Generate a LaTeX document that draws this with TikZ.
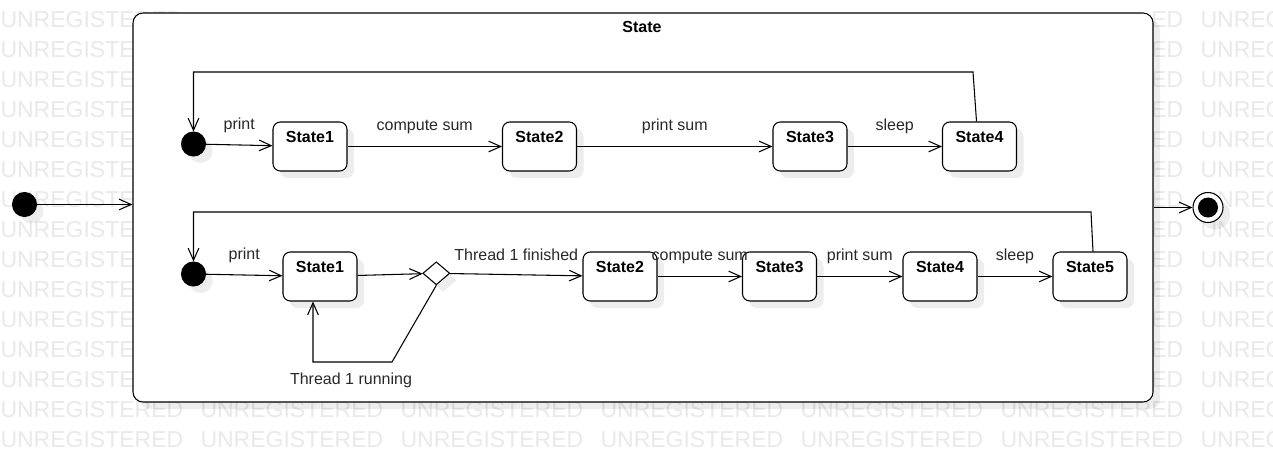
\documentclass[tikz,border=0pt]{standalone}
\usepackage{fontspec}
\setmainfont{Liberation Sans}
\usetikzlibrary{arrows.meta,shapes.geometric,shadows,calc}
\definecolor{wmgray}{RGB}{233,233,233}
\definecolor{txtgray}{RGB}{40,40,40}
\tikzset{
  shd/.style={drop shadow={shadow xshift=5.25pt, shadow yshift=-5.25pt, fill=black, opacity=0.07}},
  wm/.style={anchor=west, inner sep=0pt, text=wmgray, font=\fontsize{17.25pt}{20pt}\selectfont},
  bigbox/.style={draw, fill=white, rounded corners=7.5pt, minimum width=765pt, minimum height=291.75pt, inner sep=0pt, shd},
  titlef/.style={font=\fontsize{12pt}{14pt}\selectfont\bfseries},
  stt/.style={draw, fill=white, rounded corners=5.5pt, minimum width=55.5pt, minimum height=36.75pt, inner sep=0pt, shd},
  stlab/.style={anchor=center, yshift=-11.6pt, inner sep=0pt, font=\fontsize{12pt}{14pt}\selectfont\bfseries},
  ini/.style={circle, draw, fill=black, minimum size=18pt, inner sep=0pt, shd},
  fin/.style={circle, draw, fill=white, minimum size=22.5pt, inner sep=0pt, shd,
    path picture={\fill[black] (path picture bounding box.center) circle (7.5pt);}},
  dia/.style={diamond, draw, fill=white, minimum width=20.25pt, minimum height=17.25pt, inner sep=0pt, shd},
  arr/.style={-{Straight Barb[length=9pt,width=8pt]}},
  elab/.style={midway, yshift=15pt, text=txtgray, font=\fontsize{12pt}{14pt}\selectfont},
  flab/.style={text=txtgray, font=\fontsize{12pt}{14pt}\selectfont},
}
\begin{document}
\begin{tikzpicture}[x=0.75pt,y=-0.75pt,line width=0.8pt]
\useasboundingbox (0,0) rectangle (1273,452);
\fill[white] (0,0) rectangle (1273,452);
% watermark (only the parts left visible around the composite state)
\foreach \r in {0,...,12}{
  \node[wm] (wml\r) at (0,{19.5+30*\r}) {UNREGISTERED};
  \node[wm] (wmm\r) at (1150.8,{19.5+30*\r}) {ED};
  \node[wm] (wmr\r) at (1200,{19.5+30*\r}) {UNREGISTERED};
}
\foreach \r in {13,14}{
  \foreach \c in {0,...,6}{
    \node[wm] (wm\r-\c) at ({200*\c},{19.5+30*\r}) {UNREGISTERED};
  }
}
% composite state
\node[bigbox] (sup) at (643,207.5) {};
\node[titlef] (title) at (642,27) {State};
% outer initial and final
\node[ini] (ini0) at (24.5,204.5) {};
\node[fin] (fin) at (1208,207.5) {};
\draw[arr] (ini0) -- (ini0 -| sup.west);
\draw[arr] (fin -| sup.east) -- (fin);

% top region
\node[ini] (a0) at (193.5,144) {};
\node[stt, label={[stlab]north:State1}] (T1) at (310,146.5) {};
\node[stt, label={[stlab]north:State2}] (T2) at (539.5,146.5) {};
\node[stt, label={[stlab]north:State3}] (T3) at (810,146.5) {};
\node[stt, label={[stlab]north:State4}] (T4) at (979.5,146.5) {};
\draw[arr] (a0) -- node[elab] (lp1) {print} (T1);
\draw[arr] (T1) -- node[elab] (lp2) {compute sum} (T2);
\draw[arr] (T2) -- node[elab] (lp3) {print sum} (T3);
\draw[arr] (T3) -- node[elab] (lp4) {sleep} (T4);
\coordinate (tl1) at (973,72);
\coordinate (tl2) at (193.5,72);
\draw[arr] ($(T4.north)+(-3,0)$) -- (tl1) -- (tl2) -- (a0.north);

% bottom region
\node[ini] (b0) at (193.5,274) {};
\node[stt, label={[stlab]north:State1}] (B1) at (320,276.5) {};
\node[dia] (dd) at (436.3,273.3) {};
\node[stt, label={[stlab]north:State2}] (B2) at (620,276.5) {};
\node[stt, label={[stlab]north:State3}] (B3) at (779.5,276.5) {};
\node[stt, label={[stlab]north:State4}] (B4) at (940,276.5) {};
\node[stt, label={[stlab]north:State5}] (B5) at (1090,276.5) {};
\draw[arr] (b0) -- node[elab] (lq1) {print} (B1);
\draw[arr] (B1) -- (dd);
\draw[arr] (dd) -- node[elab] (lq2) {Thread 1 finished} (B2);
\draw[arr] (B2) -- node[elab] (lq3) {compute sum} (B3);
\draw[arr] (B3) -- node[elab] (lq4) {print sum} (B4);
\draw[arr] (B4) -- node[elab] (lq5) {sleep} (B5);
\coordinate (bl1) at (1091,212);
\coordinate (bl2) at (193.5,212);
\draw[arr] ($(B5.north)+(3,0)$) -- (bl1) -- (bl2) -- (b0.north);
\coordinate (dl1) at (392,362);
\coordinate (dl2) at (313,362);
\draw[arr] (dd.south) -- (dl1) -- (dl2) -- (dl2 |- B1.south);
\node[flab] (run) at (351,380) {Thread 1 running};
\end{tikzpicture}
\end{document}
